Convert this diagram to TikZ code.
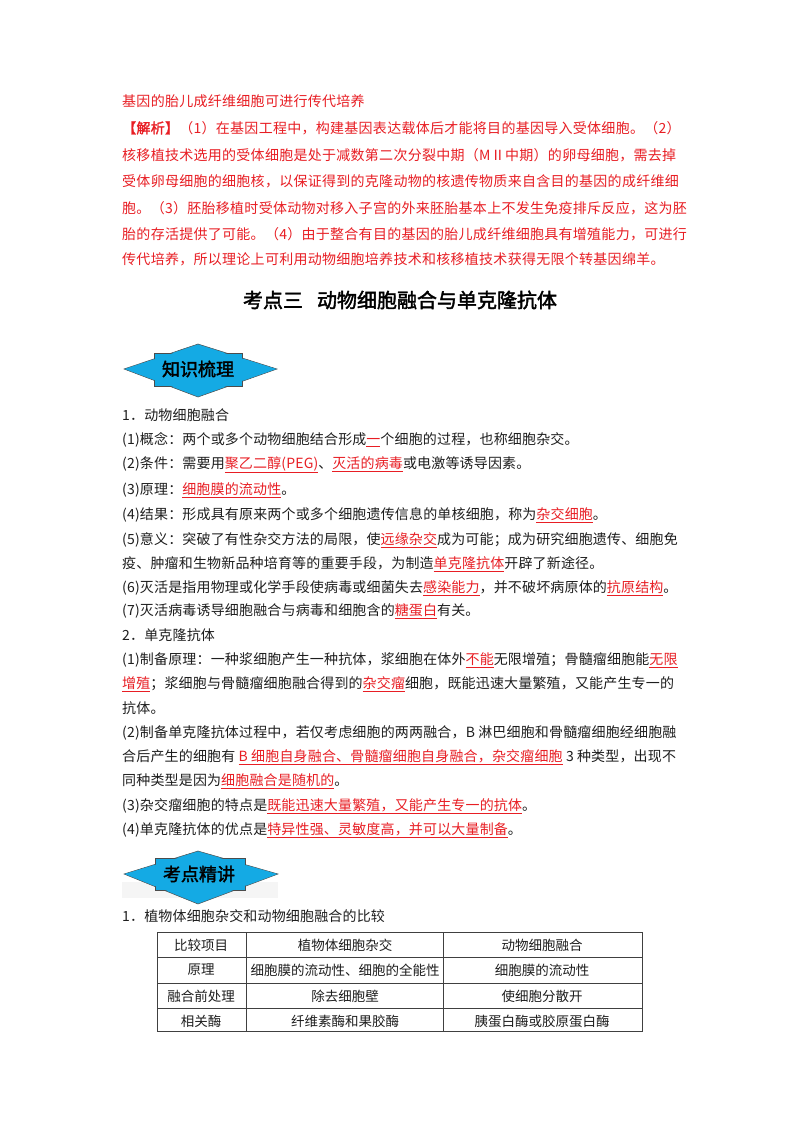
\documentclass[tikz,border=0pt]{standalone}
\usepackage{fontspec}
\setmainfont{Noto Sans CJK SC}[AutoFakeBold=2]
\newfontfamily\cjksp{Noto Sans CJK SC}[LetterSpace=2,AutoFakeBold=2]
\newfontfamily\cjkbody{Noto Sans CJK SC}[LetterSpace=1.2,AutoFakeBold=2]
\definecolor{rd}{RGB}{232,30,36}
\definecolor{bk}{RGB}{30,30,30}
\definecolor{cy}{RGB}{20,170,228}
\newcommand{\ru}[1]{\textcolor{rd}{\underline{#1}}}
\tikzset{
  ln/.style={anchor=west,inner sep=0pt,font=\fontsize{14pt}{14pt}\selectfont\cjkbody,text=bk},
  rl/.style={anchor=west,inner sep=0pt,font=\fontsize{14pt}{14pt}\selectfont\cjksp,text=rd},
  banner/.style={fill=cy,draw=black!70,line width=0.5pt},
  btxt/.style={font=\fontsize{18pt}{18pt}\selectfont\bfseries,text=black,inner sep=0pt},
  cell/.style={inner sep=0pt,font=\fontsize{13.5pt}{13.5pt}\selectfont,text=bk},
  tl/.style={draw=black!75,line width=0.8pt}
}
\begin{document}
\begin{tikzpicture}[x=1pt,y=-1pt]
\useasboundingbox (0,0) rectangle (800,1132);
\fill[white] (0,0) rectangle (800,1132);
% top paragraph
\node[rl] (p1) at (122,101) {基因的胎儿成纤维细胞可进行传代培养};
\node[rl] (p2) at (122,128) {\textbf{【解析】}（1）在基因工程中，构建基因表达载体后才能将目的基因导入受体细胞。（2）};
\node[rl] (p3) at (122,155) {核移植技术选用的受体细胞是处于减数第二次分裂中期（MⅡ中期）的卵母细胞，需去掉};
\node[rl] (p4) at (122,181) {受体卵母细胞的细胞核，以保证得到的克隆动物的核遗传物质来自含目的基因的成纤维细};
\node[rl] (p5) at (122,208) {胞。（3）胚胎移植时受体动物对移入子宫的外来胚胎基本上不发生免疫排斥反应，这为胚};
\node[rl] (p6) at (122,234) {胎的存活提供了可能。（4）由于整合有目的基因的胎儿成纤维细胞具有增殖能力，可进行};
\node[rl] (p7) at (122,259) {传代培养，所以理论上可利用动物细胞培养技术和核移植技术获得无限个转基因绵羊。};
% title
\node[inner sep=0pt,font=\fontsize{20pt}{20pt}\selectfont\bfseries,text=black] (title) at (400,300) {考点三\hspace{14pt}动物细胞融合与单克隆抗体};
% banner 1
\fill[banner] (124,369) -- (198,344) -- (277,369) -- (198,397) -- cycle;
\fill[banner] (154,353) rectangle (242,386);
\fill[cy] (125,369) -- (198,345) -- (276,369) -- (198,396) -- cycle;
\node[btxt] (b1) at (198,369) {知识梳理};
% section 1
\node[ln] (a0) at (122,415) {1．动物细胞融合};
\node[ln] (a1) at (122,440) {(1)概念：两个或多个动物细胞结合形成\ru{一}个细胞的过程，也称细胞杂交。};
\node[ln] (a2) at (122,465) {(2)条件：需要用\ru{聚乙二醇(PEG)}、\ru{灭活的病毒}或电激等诱导因素。};
\node[ln] (a3) at (122,490) {(3)原理：\ru{细胞膜的流动性}。};
\node[ln] (a4) at (122,515) {(4)结果：形成具有原来两个或多个细胞遗传信息的单核细胞，称为\ru{杂交细胞}。};
\node[ln] (a5) at (122,540) {(5)意义：突破了有性杂交方法的局限，使\ru{远缘杂交}成为可能；成为研究细胞遗传、细胞免};
\node[ln] (a6) at (122,564) {疫、肿瘤和生物新品种培育等的重要手段，为制造\ru{单克隆抗体}开辟了新途径。};
\node[ln] (a7) at (122,588) {(6)灭活是指用物理或化学手段使病毒或细菌失去\ru{感染能力}，并不破坏病原体的\ru{抗原结构}。};
\node[ln] (a8) at (122,611) {(7)灭活病毒诱导细胞融合与病毒和细胞含的\ru{糖蛋白}有关。};
% section 2
\node[ln] (c0) at (122,635) {2．单克隆抗体};
\node[ln] (c1) at (122,660) {(1)制备原理：一种浆细胞产生一种抗体，浆细胞在体外\ru{不能}无限增殖；骨髓瘤细胞能\ru{无限}};
\node[ln] (c2) at (122,684) {\ru{增殖}；浆细胞与骨髓瘤细胞融合得到的\ru{杂交瘤}细胞，既能迅速大量繁殖，又能产生专一的};
\node[ln] (c3) at (122,708) {抗体。};
\node[ln] (c4) at (122,733) {(2)制备单克隆抗体过程中，若仅考虑细胞的两两融合，B 淋巴细胞和骨髓瘤细胞经细胞融};
\node[ln] (c5) at (122,757) {合后产生的细胞有 \ru{B 细胞自身融合、骨髓瘤细胞自身融合，杂交瘤细胞} 3 种类型，出现不};
\node[ln] (c6) at (122,781) {同种类型是因为\ru{细胞融合是随机的}。};
\node[ln] (c7) at (122,806) {(3)杂交瘤细胞的特点是\ru{既能迅速大量繁殖，又能产生专一的抗体}。};
\node[ln] (c8) at (122,830) {(4)单克隆抗体的优点是\ru{特异性强、灵敏度高，并可以大量制备}。};
% banner 2
\fill[black!4] (122,882) rectangle (278,898);
\fill[banner] (124,874) -- (198,851) -- (278,874) -- (198,904) -- cycle;
\fill[banner] (155,858) rectangle (245,890);
\fill[cy] (125,874) -- (198,852) -- (277,874) -- (198,903) -- cycle;
\node[btxt] (b2) at (199,874) {考点精讲};
% table
\node[ln] (t0) at (122,916) {1．植物体细胞杂交和动物细胞融合的比较};
\draw[tl] (157,932) rectangle (642,1031);
\draw[tl] (157,957) -- (642,957);
\draw[tl] (157,983) -- (642,983);
\draw[tl] (157,1008) -- (642,1008);
\draw[tl] (246,932) -- (246,1031);
\draw[tl] (443,932) -- (443,1031);
\node[cell] (h1) at (201,945) {比较项目};
\node[cell] (h2) at (345,945) {植物体细胞杂交};
\node[cell] (h3) at (542,945) {动物细胞融合};
\node[cell] (r11) at (201,970) {原理};
\node[cell] (r12) at (345,970) {细胞膜的流动性、细胞的全能性};
\node[cell] (r13) at (542,970) {细胞膜的流动性};
\node[cell] (r21) at (201,996) {融合前处理};
\node[cell] (r22) at (345,996) {除去细胞壁};
\node[cell] (r23) at (542,996) {使细胞分散开};
\node[cell] (r31) at (201,1021) {相关酶};
\node[cell] (r32) at (345,1021) {纤维素酶和果胶酶};
\node[cell] (r33) at (542,1021) {胰蛋白酶或胶原蛋白酶};
\end{tikzpicture}
\end{document}
